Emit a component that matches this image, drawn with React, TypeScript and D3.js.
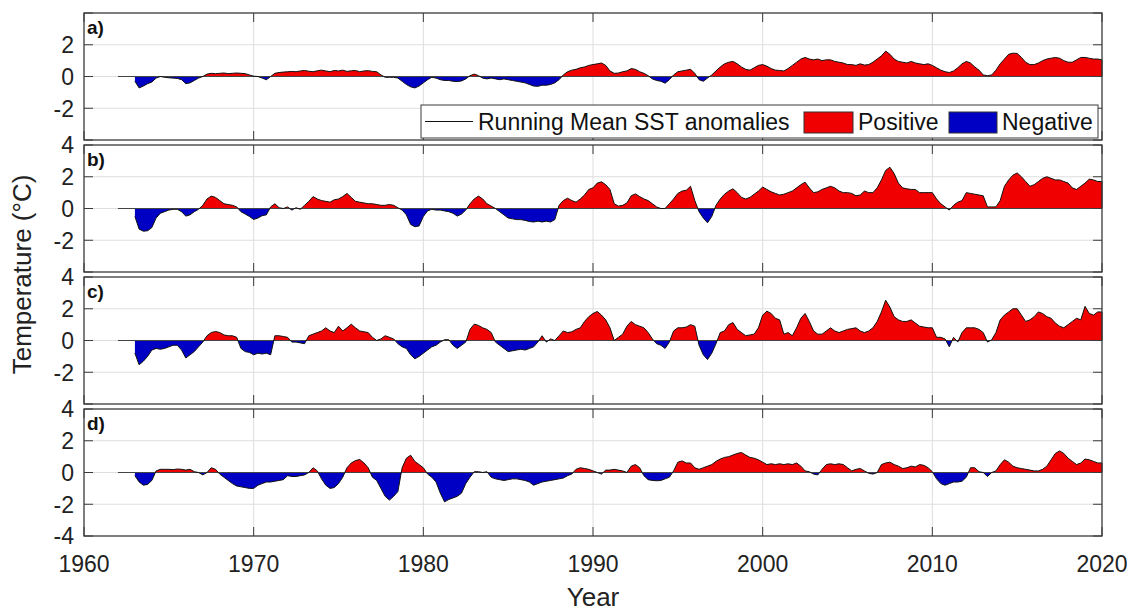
import React from "react";
import * as d3 from "d3";

// quarterly running-mean SST anomalies (°C), 1963.00 .. 2020.00
const firstYear = 1963;
const stepYears = 0.25;

const sstA = [
  -0.3, -0.72, -0.6, -0.45, -0.35, -0.1, 0.0, -0.05, -0.08, -0.1, -0.12, -0.2,
  -0.45, -0.4, -0.25, -0.1, 0.0, 0.15, 0.2, 0.18, 0.2, 0.22, 0.18, 0.2,
  0.22, 0.2, 0.18, 0.1, 0.02, 0.0, -0.1, -0.2, 0.0, 0.2, 0.25, 0.28,
  0.3, 0.32, 0.3, 0.35, 0.38, 0.33, 0.3, 0.36, 0.4, 0.35, 0.3, 0.38,
  0.35, 0.4, 0.32, 0.36, 0.38, 0.3, 0.35, 0.37, 0.32, 0.3, 0.1, -0.05,
  -0.05, -0.05, -0.1, -0.3, -0.5, -0.65, -0.72, -0.6, -0.4, -0.2, -0.05, -0.1,
  -0.2, -0.25, -0.25, -0.3, -0.32, -0.28, -0.15, 0.05, 0.15, 0.05, -0.1, -0.15,
  -0.1, -0.15, -0.2, -0.15, -0.2, -0.25, -0.3, -0.35, -0.4, -0.5, -0.6, -0.62,
  -0.55, -0.55, -0.5, -0.4, -0.2, 0.1, 0.3, 0.4, 0.45, 0.55, 0.6, 0.7,
  0.75, 0.8, 0.85, 0.7, 0.35, 0.2, 0.22, 0.3, 0.35, 0.5, 0.45, 0.3,
  0.2, 0.05, -0.15, -0.25, -0.3, -0.42, -0.2, 0.1, 0.3, 0.35, 0.4, 0.45,
  0.2, -0.2, -0.3, -0.1, 0.1, 0.35, 0.6, 0.8, 0.9, 0.95, 0.8, 0.6,
  0.45, 0.4, 0.55, 0.7, 0.75, 0.65, 0.5, 0.4, 0.38, 0.35, 0.5, 0.7,
  0.9, 1.1, 1.2, 1.1, 1.05, 1.1, 1.0, 1.05, 1.05, 0.95, 0.9, 0.85,
  0.75, 0.75, 0.7, 0.8, 0.72, 0.75, 0.9, 1.1, 1.3, 1.6, 1.4, 1.1,
  0.95, 0.9, 0.85, 0.95, 0.85, 0.8, 0.75, 0.8, 0.7, 0.55, 0.4, 0.3,
  0.25, 0.35, 0.55, 0.8, 0.95, 0.85, 0.6, 0.4, 0.1, 0.05, 0.1, 0.4,
  0.8, 1.1, 1.4, 1.47, 1.45, 1.2, 0.9, 0.75, 0.75, 0.85, 1.0, 1.1,
  1.15, 1.2, 1.15, 1.0, 0.9, 0.9, 1.05, 1.2, 1.2, 1.15, 1.1, 1.1,
  1.05,
];

const sstB = [
  -0.5, -1.3, -1.43, -1.4, -1.2, -0.6, -0.3, -0.2, -0.1, -0.05, -0.05, -0.2,
  -0.48, -0.4, -0.2, -0.05, 0.2, 0.6, 0.78, 0.7, 0.5, 0.3, 0.25, 0.2,
  0.1, -0.2, -0.35, -0.5, -0.69, -0.6, -0.45, -0.4, 0.1, 0.3, 0.05, 0.0,
  0.1, -0.1, 0.05, -0.05, 0.2, 0.45, 0.75, 0.6, 0.5, 0.45, 0.4, 0.55,
  0.6, 0.75, 0.95, 0.7, 0.45, 0.4, 0.35, 0.3, 0.3, 0.25, 0.2, 0.2,
  0.25, 0.2, 0.05, -0.1, -0.4, -1.0, -1.15, -1.1, -0.5, -0.15, -0.05, -0.1,
  -0.1, -0.15, -0.2, -0.3, -0.48, -0.35, -0.1, 0.3, 0.6, 0.78, 0.6, 0.3,
  0.15, 0.0, -0.2, -0.4, -0.6, -0.65, -0.7, -0.7, -0.75, -0.82, -0.85, -0.8,
  -0.85, -0.8, -0.85, -0.7, 0.2, 0.5, 0.65, 0.5, 0.4, 0.6, 0.85, 1.2,
  1.3, 1.6, 1.68, 1.5, 1.2, 0.3, 0.15, 0.2, 0.35, 0.8, 0.92, 0.75,
  0.6, 0.5, 0.3, 0.1, 0.0, 0.0, 0.3, 0.6, 0.95, 1.1, 1.15, 1.4,
  0.5, -0.2, -0.6, -0.9, -0.5, 0.2, 0.6, 0.9, 1.1, 1.24, 1.0, 0.7,
  0.6, 0.7, 0.9, 1.1, 1.35, 1.2, 1.05, 0.95, 0.85, 0.9, 1.0, 1.1,
  1.3, 1.5, 1.66, 1.3, 1.0, 1.05, 1.2, 1.3, 1.4, 1.3, 1.1, 1.0,
  1.0, 0.95, 0.8, 0.85, 1.1, 1.0, 1.0, 1.3, 1.8, 2.4, 2.6, 2.2,
  1.6, 1.3, 1.24, 1.2, 1.2, 1.0, 1.0, 1.0, 1.0, 0.6, 0.3, 0.1,
  -0.1, 0.2, 0.4, 0.5, 1.0, 0.95, 0.9, 0.85, 0.8, 0.1, 0.1, 0.1,
  0.5, 1.4, 1.8, 2.1, 2.24, 2.0, 1.7, 1.4, 1.5, 1.7, 1.9, 2.0,
  1.9, 1.8, 1.8, 1.7, 1.6, 1.3, 1.2, 1.4, 1.6, 1.85, 1.8, 1.7,
  1.7,
];

const sstC = [
  -0.8, -1.53, -1.3, -1.0, -0.6, -0.5, -0.55, -0.5, -0.4, -0.3, -0.3, -0.6,
  -1.1, -0.9, -0.7, -0.4, -0.1, 0.3, 0.5, 0.57, 0.5, 0.35, 0.3, 0.3,
  0.2, -0.5, -0.7, -0.75, -0.9, -0.8, -0.85, -0.8, -0.9, 0.3, 0.3, 0.25,
  0.2, -0.1, -0.1, -0.15, -0.2, 0.3, 0.4, 0.5, 0.6, 0.8, 0.6, 0.5,
  0.9, 0.6, 0.8, 1.03, 0.8, 0.6, 0.55, 0.5, 0.2, 0.0, 0.1, 0.3,
  0.2, 0.1, -0.2, -0.4, -0.5, -0.9, -1.15, -1.0, -0.8, -0.6, -0.4, -0.3,
  -0.1, 0.05, 0.05, -0.3, -0.5, -0.3, -0.1, 0.7, 1.03, 0.95, 0.8, 0.7,
  0.5, -0.1, -0.3, -0.5, -0.7, -0.65, -0.6, -0.55, -0.6, -0.5, -0.4, -0.1,
  0.3, -0.1, 0.1, 0.0, 0.3, 0.6, 0.5, 0.55, 0.7, 0.8, 1.2, 1.5,
  1.7, 1.83, 1.6, 1.3, 0.8, 0.0, 0.2, 0.4, 0.9, 1.2, 1.0, 0.9,
  0.8, 0.5, 0.1, -0.2, -0.3, -0.5, -0.1, 0.6, 0.8, 0.8, 0.85, 1.0,
  0.9, -0.3, -0.9, -1.2, -0.8, -0.2, 0.5, 0.6, 1.0, 1.13, 0.7, 0.5,
  0.3, 0.35, 0.4, 0.8, 1.6, 1.85, 1.7, 1.4, 1.3, 0.4, 0.5, 0.3,
  0.8, 1.4, 1.7, 1.2, 0.6, 0.4, 0.4, 0.6, 0.8, 0.6, 0.5, 0.6,
  0.7, 0.75, 0.8, 0.6, 0.5, 0.6, 0.8, 1.2, 1.8, 2.54, 2.1, 1.5,
  1.3, 1.2, 1.2, 1.3, 1.1, 0.9, 0.85, 0.8, 0.8, 0.2, 0.2, 0.1,
  -0.4, 0.2, -0.1, 0.5, 0.8, 0.8, 0.8, 0.7, 0.5, -0.1, 0.05, 0.5,
  1.3, 1.6, 1.8, 2.0, 2.0, 1.6, 1.2, 1.3, 1.5, 1.8, 1.7, 1.5,
  1.4, 1.1, 0.9, 0.8, 1.0, 1.2, 1.4, 1.3, 2.15, 1.7, 1.6, 1.8,
  1.8,
];

const sstD = [
  -0.2, -0.6, -0.8, -0.75, -0.5, 0.1, 0.2, 0.2, 0.2, 0.18, 0.22, 0.2,
  0.15, 0.2, 0.05, 0.0, -0.15, 0.0, 0.3, 0.2, -0.1, -0.3, -0.5, -0.7,
  -0.85, -0.9, -0.95, -1.0, -1.0, -0.8, -0.7, -0.6, -0.6, -0.55, -0.5, -0.45,
  -0.2, -0.25, -0.25, -0.2, -0.15, 0.0, 0.3, 0.1, -0.4, -0.8, -1.0, -0.95,
  -0.7, -0.3, 0.3, 0.6, 0.75, 0.82, 0.6, 0.3, -0.3, -0.5, -1.0, -1.5,
  -1.74, -1.5, -1.2, 0.3, 0.9, 1.09, 0.7, 0.5, 0.3, -0.1, -0.3, -0.6,
  -1.3, -1.85, -1.7, -1.6, -1.5, -1.3, -0.7, -0.3, 0.05, 0.05, 0.0, 0.05,
  -0.3, -0.4, -0.45, -0.5, -0.45, -0.4, -0.4, -0.45, -0.5, -0.6, -0.8, -0.7,
  -0.6, -0.55, -0.5, -0.45, -0.4, -0.35, -0.2, -0.1, 0.2, 0.3, 0.25, 0.2,
  0.1, 0.0, -0.1, 0.15, 0.15, 0.2, 0.15, 0.1, 0.0, 0.4, 0.5, 0.3,
  -0.2, -0.45, -0.5, -0.52, -0.5, -0.4, -0.3, 0.1, 0.65, 0.73, 0.6, 0.6,
  0.3, 0.2, 0.3, 0.4, 0.5, 0.7, 0.85, 0.95, 1.0, 1.1, 1.2, 1.26,
  1.1, 0.95, 0.9, 0.8, 0.65, 0.5, 0.55, 0.5, 0.55, 0.5, 0.55, 0.5,
  0.6, 0.4, 0.1, 0.05, -0.1, -0.15, 0.2, 0.5, 0.55, 0.5, 0.55, 0.5,
  0.3, 0.1, 0.2, 0.25, 0.1, -0.05, -0.1, 0.0, 0.5, 0.6, 0.65, 0.5,
  0.4, 0.25, 0.3, 0.4, 0.35, 0.5, 0.45, 0.3, 0.05, -0.4, -0.7, -0.8,
  -0.7, -0.6, -0.6, -0.55, -0.3, 0.3, 0.3, 0.05, 0.0, -0.25, 0.0, 0.1,
  0.5, 0.8, 0.65, 0.4, 0.3, 0.25, 0.2, 0.15, 0.1, 0.1, 0.2, 0.4,
  0.8, 1.2, 1.36, 1.2, 0.9, 0.7, 0.5, 0.6, 0.85, 0.8, 0.7, 0.6,
  0.6,
];

const panelSeries = [sstA, sstB, sstC, sstD];
const panelLabels = ["a)", "b)", "c)", "d)"];
const panelYTicks = [
  [2, 0, -2],
  [4, 2, 0, -2],
  [4, 2, 0, -2],
  [4, 2, 0, -2, -4],
];
const gridY = [-2, 0, 2];
const xTicks = [1960, 1970, 1980, 1990, 2000, 2010, 2020];
const legendLabels = ["Running Mean SST anomalies", "Positive", "Negative"];

const W = 1133;
const H = 611;
const panelTops = [13, 145, 277, 409];
const panelH = 127;
const left = 84;
const right = 1102;
const font = "'Liberation Sans', Arial, Helvetica, sans-serif";
const RED = "#f00000";
const BLUE = "#0000c4";
const AXIS = "#3a3a3a";
const GRID = "#dedede";

const x = d3.scaleLinear().domain([1960, 2020]).range([left, right]);

const Panel = ({ idx }: { idx: number }) => {
  const top = panelTops[idx];
  const bottom = top + panelH;
  const values = panelSeries[idx];
  const pts = values.map((v, i) => ({ t: firstYear + i * stepYears, v }));
  const y = d3.scaleLinear().domain([-4, 4]).range([bottom, top]);
  const zero = y(0);

  const area = d3
    .area<{ t: number; v: number }>()
    .x((d) => x(d.t))
    .y0(zero)
    .y1((d) => y(d.v));
  const line = d3
    .line<{ t: number; v: number }>()
    .x((d) => x(d.t))
    .y((d) => y(d.v));

  const areaPath = area(pts) || "";
  const tl = 9;
  const last = pts[pts.length - 1];

  return (
    <g>
      <defs>
        <clipPath id={`pos${idx}`}>
          <rect x={left} y={top} width={right - left} height={zero - top} />
        </clipPath>
        <clipPath id={`neg${idx}`}>
          <rect x={left} y={zero} width={right - left} height={bottom - zero} />
        </clipPath>
      </defs>
      <rect x={left} y={top} width={right - left} height={panelH} fill="#fff" />
      {/* grid */}
      {xTicks.slice(1, -1).map((t) => (
        <line key={`gx${t}`} x1={x(t)} x2={x(t)} y1={top} y2={bottom} stroke={GRID} strokeWidth={1} />
      ))}
      {gridY.map((v) => (
        <line key={`gy${v}`} x1={left} x2={right} y1={y(v)} y2={y(v)} stroke={GRID} strokeWidth={1} />
      ))}
      {/* positive / negative fill */}
      <path d={areaPath} fill={RED} clipPath={`url(#pos${idx})`} />
      <path d={areaPath} fill={BLUE} clipPath={`url(#neg${idx})`} />
      <line x1={x(1962)} x2={x(2020)} y1={zero} y2={zero} stroke="#444" strokeWidth={1} />
      <path d={line(pts) || ""} fill="none" stroke="#111" strokeWidth={1} />
      <line x1={x(last.t)} x2={x(last.t)} y1={zero} y2={y(last.v)} stroke="#111" strokeWidth={1} />
      {/* ticks */}
      {xTicks.map((t) => (
        <g key={`tx${t}`}>
          <line x1={x(t)} x2={x(t)} y1={bottom} y2={bottom - tl} stroke={AXIS} strokeWidth={1} />
          <line x1={x(t)} x2={x(t)} y1={top} y2={top + tl} stroke={AXIS} strokeWidth={1} />
        </g>
      ))}
      {[-4, -2, 0, 2, 4].map((v) => (
        <g key={`ty${v}`}>
          <line x1={left} x2={left + tl} y1={y(v)} y2={y(v)} stroke={AXIS} strokeWidth={1} />
          <line x1={right} x2={right - tl} y1={y(v)} y2={y(v)} stroke={AXIS} strokeWidth={1} />
        </g>
      ))}
      <rect x={left} y={top} width={right - left} height={panelH} fill="none" stroke={AXIS} strokeWidth={1.3} />
      {panelYTicks[idx].map((v) => (
        <text key={`yl${v}`} x={left - 10} y={y(v)} dy="0.36em" textAnchor="end" fontSize={23} fontFamily={font} fill="#222">
          {v}
        </text>
      ))}
      <text x={left + 3} y={top + 21} fontSize={19} fontWeight="bold" fontFamily={font} fill="#111">
        {panelLabels[idx]}
      </text>
    </g>
  );
};

const Legend = () => {
  const bx = 421;
  const by = 105;
  const bw = 677;
  const bh = 33;
  const cy = by + bh / 2;
  return (
    <g fontFamily={font} fontSize={23} fill="#111">
      <rect x={bx} y={by} width={bw} height={bh} fill="#fff" stroke={AXIS} strokeWidth={1} />
      <line x1={425} x2={473} y1={cy} y2={cy} stroke="#111" strokeWidth={1} />
      <text x={478} y={cy} dy="0.36em">{legendLabels[0]}</text>
      <rect x={804} y={by + 7} width={49} height={21} fill={RED} stroke="#333" strokeWidth={1} />
      <text x={858} y={cy} dy="0.36em">{legendLabels[1]}</text>
      <rect x={949} y={by + 7} width={48} height={21} fill={BLUE} stroke="#333" strokeWidth={1} />
      <text x={1002} y={cy} dy="0.36em">{legendLabels[2]}</text>
    </g>
  );
};

export default function App() {
  const lastBottom = panelTops[3] + panelH;
  return (
    <svg
      width={W}
      height={H}
      style={{ position: "absolute", left: 0, top: 0, background: "#fff" }}
    >
      <rect width={W} height={H} fill="#fff" />
      {panelTops.map((_, i) => (
        <Panel key={i} idx={i} />
      ))}
      <Legend />
      {xTicks.map((t) => (
        <text key={t} x={x(t)} y={lastBottom + 36} textAnchor="middle" fontSize={23} fontFamily={font} fill="#222">
          {t}
        </text>
      ))}
      <text x={593} y={606} textAnchor="middle" fontSize={26} fontFamily={font} fill="#222">
        Year
      </text>
      <text
        transform={`translate(31,${(panelTops[0] + lastBottom) / 2}) rotate(-90)`}
        textAnchor="middle"
        fontSize={26}
        fontFamily={font}
        fill="#222"
      >
        Temperature (°C)
      </text>
    </svg>
  );
}
